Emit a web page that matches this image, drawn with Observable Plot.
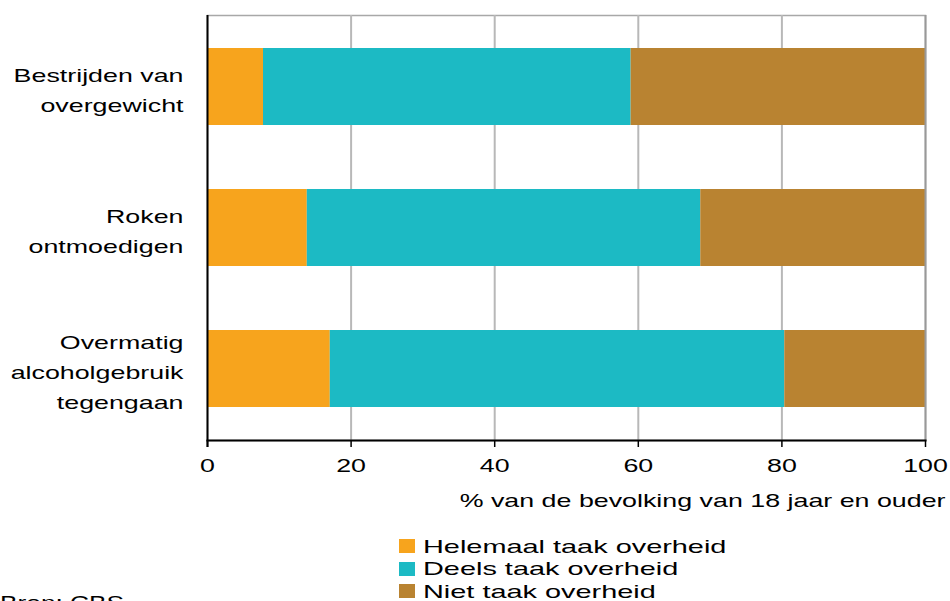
<!DOCTYPE html>
<html>
<head>
<meta charset="utf-8">
<script src="https://cdn.jsdelivr.net/npm/d3@7"></script>
<script src="https://cdn.jsdelivr.net/npm/@observablehq/plot@0.6"></script>
<style>
  html, body { margin: 0; padding: 0; background: #fff; overflow: hidden; width: 950px; height: 601px; }
  body { position: relative; font-family: "Liberation Sans", Arial, sans-serif; }
  #chart { position: absolute; left: 0; top: 0; }
  .legend { position: absolute; left: 399px; top: 535px; }
  .row { display: flex; align-items: center; height: 22.5px; }
  .sw { width: 16px; height: 14px; margin-right: 8px; flex: none; }
  .lab { font-size: 19px; line-height: 19px; transform: scaleX(1.52); transform-origin: left center; white-space: nowrap; color: #000; }
  .source { position: absolute; left: 0; top: 594px; font-size: 18px; line-height: 18px; transform: scaleX(1.46); transform-origin: left top; white-space: nowrap; }
</style>
</head>
<body>
<div id="chart"></div>
<div class="legend" id="legend"></div>
<div class="source">Bron: CBS</div>
<script>
const categories = ["Bestrijden van overgewicht", "Roken ontmoedigen", "Overmatig alcoholgebruik tegengaan"];
const categoryLabels = ["Bestrijden van\novergewicht", "Roken\nontmoedigen", "Overmatig\nalcoholgebruik\ntegengaan"];
const responses = ["Helemaal taak overheid", "Deels taak overheid", "Niet taak overheid"];
const colors = ["#F7A41D", "#1CBAC4", "#B98331"];
const helemaal = [7.8, 13.9, 17.1];
const deels = [51.2, 54.8, 63.3];
const niet = [41.0, 31.3, 19.6];
const xTicks = [0, 20, 40, 60, 80, 100];
const xLabel = "% van de bevolking van 18 jaar en ouder";

const series = [helemaal, deels, niet];
const data = [];
categories.forEach((c, i) => {
  responses.forEach((r, j) => data.push({category: c, response: r, value: series[j][i]}));
});

const chart = Plot.plot({
  width: 950,
  height: 520,
  marginTop: 15,
  marginBottom: 80,
  marginLeft: 207,
  marginRight: 25,
  style: {fontFamily: "'Liberation Sans', Arial, sans-serif", fontSize: "18px", color: "#000", background: "#fff"},
  x: {domain: [0, 100], axis: null},
  y: {domain: categories, axis: null, paddingInner: 0.457, paddingOuter: 0.2285},
  color: {domain: responses, range: colors},
  marks: [
    Plot.frame({stroke: "#a8a8a8", strokeWidth: 1.5}),
    Plot.ruleX([20, 40, 60, 80], {stroke: "#b8b8b8", strokeWidth: 2}),
    Plot.barX(data, {x: "value", y: "category", fill: "response", order: responses}),
    Plot.ruleX([100], {stroke: "#999", strokeWidth: 2}),
    Plot.ruleX([0], {stroke: "#000", strokeWidth: 2, insetBottom: -7}),
    Plot.ruleX(xTicks, {stroke: "#000", strokeWidth: 1.5, insetTop: 425, insetBottom: -7}),
    Plot.frame({anchor: "bottom", stroke: "#000", strokeWidth: 2}),
    Plot.text(xTicks, {x: d => d, text: d => String(d), frameAnchor: "bottom", dy: 31, textAnchor: "middle", fontSize: 18, fill: "#000"}),
    Plot.text(categories, {y: d => d, text: (d, i) => categoryLabels[i], frameAnchor: "left", dx: -24, textAnchor: "end", lineHeight: 1.667, fontSize: 18, fill: "#000"}),
    Plot.text([xLabel], {text: d => d, frameAnchor: "bottom-right", dx: 20, dy: 66, textAnchor: "end", fontSize: 18, fill: "#000"})
  ]
});

const S = 1.49;
chart.querySelectorAll("text").forEach(t => {
  const x = +(t.getAttribute("x") || 0), y = +(t.getAttribute("y") || 0);
  t.removeAttribute("x"); t.removeAttribute("y");
  const tr = t.getAttribute("transform") || "";
  t.setAttribute("transform", `${tr} translate(${x},${y}) scale(${S},1)`);
});
document.getElementById("chart").appendChild(chart);

const legend = document.getElementById("legend");
responses.forEach((r, i) => {
  const row = document.createElement("div");
  row.className = "row";
  row.innerHTML = `<div class="sw" style="background:${colors[i]}"></div><div class="lab">${r}</div>`;
  legend.appendChild(row);
});
</script>
</body>
</html>
